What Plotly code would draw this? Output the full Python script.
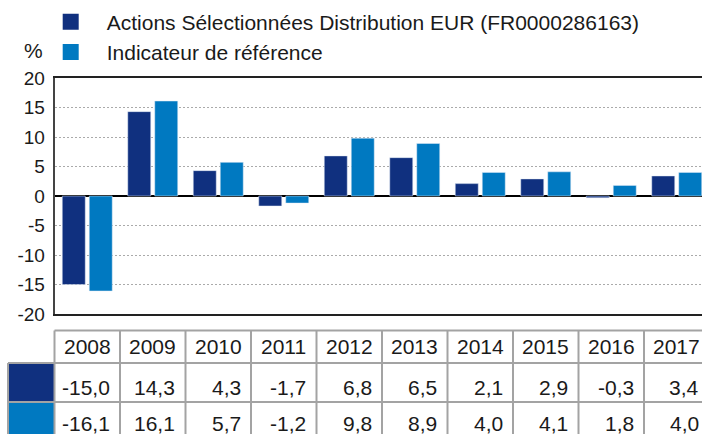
import plotly.graph_objects as go

years = ["2008", "2009", "2010", "2011", "2012", "2013", "2014", "2015", "2016", "2017"]
fund = [-15.0, 14.3, 4.3, -1.7, 6.8, 6.5, 2.1, 2.9, -0.3, 3.4]
bench = [-16.1, 16.1, 5.7, -1.2, 9.8, 8.9, 4.0, 4.1, 1.8, 4.0]
series_names = ["Actions Sélectionnées Distribution EUR (FR0000286163)", "Indicateur de référence"]
tick_vals = [20, 15, 10, 5, 0, -5, -10, -15, -20]
tick_text = ["20", "15", "10", "5", "0", "-5", "-10", "-15", "-20"]

DARK = "#10307F"
LIGHT = "#0079C1"
TXT = "#1a1a1a"
GRIDC = "#a3a3a3"
FONT = "Liberation Sans, Arial, sans-serif"
# like the reference, the figure runs slightly past the right and bottom of the window
W, H = 710, 442


def px(x):  # page x -> paper fraction
    return x / W


def py(y):  # page y -> paper fraction
    return 1 - y / H


def fmt(v):
    return f"{v:.1f}".replace(".", ",")


X0 = px(54.5)  # left edge of the plot area
n = len(years)

fig = go.Figure()
fig.add_trace(go.Bar(x=years, y=fund, marker_color=DARK, showlegend=False))
fig.add_trace(go.Bar(x=years, y=bench, marker_color=LIGHT, showlegend=False))
for name, col in zip(series_names, [DARK, LIGHT]):
    fig.add_trace(go.Scatter(x=[None], y=[None], mode="markers", name=name,
                             marker=dict(symbol="square", size=16, color=col)))

# ---- table under the chart (columns aligned to the category axis) ----
ROW_TOP, ROW1, ROW2, ROW_END = py(330.5), py(363), py(402), py(441)
X_TAB = px(8)
shapes = []
shapes.append(dict(type="rect", xref="paper", yref="paper", x0=X_TAB, x1=X0, y0=ROW2, y1=ROW1,
                   fillcolor=DARK, line_width=0, layer="above"))
shapes.append(dict(type="rect", xref="paper", yref="paper", x0=X_TAB, x1=X0, y0=ROW_END, y1=ROW2,
                   fillcolor=LIGHT, line_width=0, layer="above"))
shapes.append(dict(type="line", xref="x domain", yref="paper", x0=0, x1=1, y0=ROW_TOP, y1=ROW_TOP,
                   line=dict(color=GRIDC, width=2), layer="above"))
for yy in (ROW1, ROW2):
    shapes.append(dict(type="line", xref="paper", yref="paper", x0=X_TAB, x1=1, y0=yy, y1=yy,
                       line=dict(color=GRIDC, width=2), layer="above"))
for i in range(n + 1):
    shapes.append(dict(type="line", xref="x domain", yref="paper", x0=i / n, x1=i / n,
                       y0=ROW_END, y1=ROW_TOP, line=dict(color=GRIDC, width=2), layer="above"))
shapes.append(dict(type="line", xref="paper", yref="paper", x0=X_TAB, x1=X_TAB,
                   y0=ROW_END, y1=ROW1, line=dict(color=GRIDC, width=2), layer="above"))

annotations = []
for i, yr in enumerate(years):
    annotations.append(dict(text=yr, x=i, xref="x", y=py(346.7), yref="paper",
                            xanchor="center", yanchor="middle", showarrow=False,
                            font=dict(family=FONT, size=21, color=TXT)))
for vals, yc in ((fund, 387.5), (bench, 423.5)):
    for i, v in enumerate(vals):
        annotations.append(dict(text=fmt(v), x=i, xref="x", y=py(yc), yref="paper",
                                xanchor="right", yanchor="middle", xshift=24.5,
                                showarrow=False, font=dict(family=FONT, size=21, color=TXT)))
annotations.append(dict(text="%", xref="paper", yref="paper", x=px(44.5), y=py(50),
                        xanchor="right", yanchor="middle", showarrow=False,
                        font=dict(family=FONT, size=21, color=TXT)))

fig.update_layout(
    width=W, height=H,
    margin=dict(l=0, r=0, t=0, b=0, autoexpand=False),
    paper_bgcolor="white", plot_bgcolor="white",
    font=dict(family=FONT, size=19, color=TXT),
    barmode="group", bargap=0.176, bargroupgap=0.148,
    xaxis=dict(type="category", categoryorder="array", categoryarray=years,
               range=[-0.5, n - 0.5],
               domain=[X0, px(709.5)], showticklabels=False, ticks="",
               showgrid=False, showline=True, linecolor="#222", linewidth=1.5,
               mirror=True, fixedrange=True),
    yaxis=dict(domain=[py(314), py(78)], range=[-20, 20],
               tickvals=tick_vals, ticktext=tick_text, ticks="",
               ticklabelstandoff=4,
               showgrid=True, gridcolor="#aaaaaa", gridwidth=1, griddash="2px,2px",
               zeroline=True, zerolinecolor="black", zerolinewidth=2,
               showline=True, linecolor="#444", linewidth=1.5,
               tickfont=dict(size=19), fixedrange=True),
    legend=dict(x=px(34.7), y=py(1.5),
                xanchor="left", yanchor="top", bgcolor="rgba(0,0,0,0)",
                font=dict(family=FONT, size=21, color=TXT),
                itemwidth=62, tracegroupgap=0),
    shapes=shapes,
    annotations=annotations,
)

fig.write_html(
    "out.html",
    config={"displayModeBar": False},
    post_script=(
        "document.body.style.margin='0';"
        "document.body.style.overflow='hidden';"
        "document.documentElement.style.overflow='hidden';"
    ),
)
